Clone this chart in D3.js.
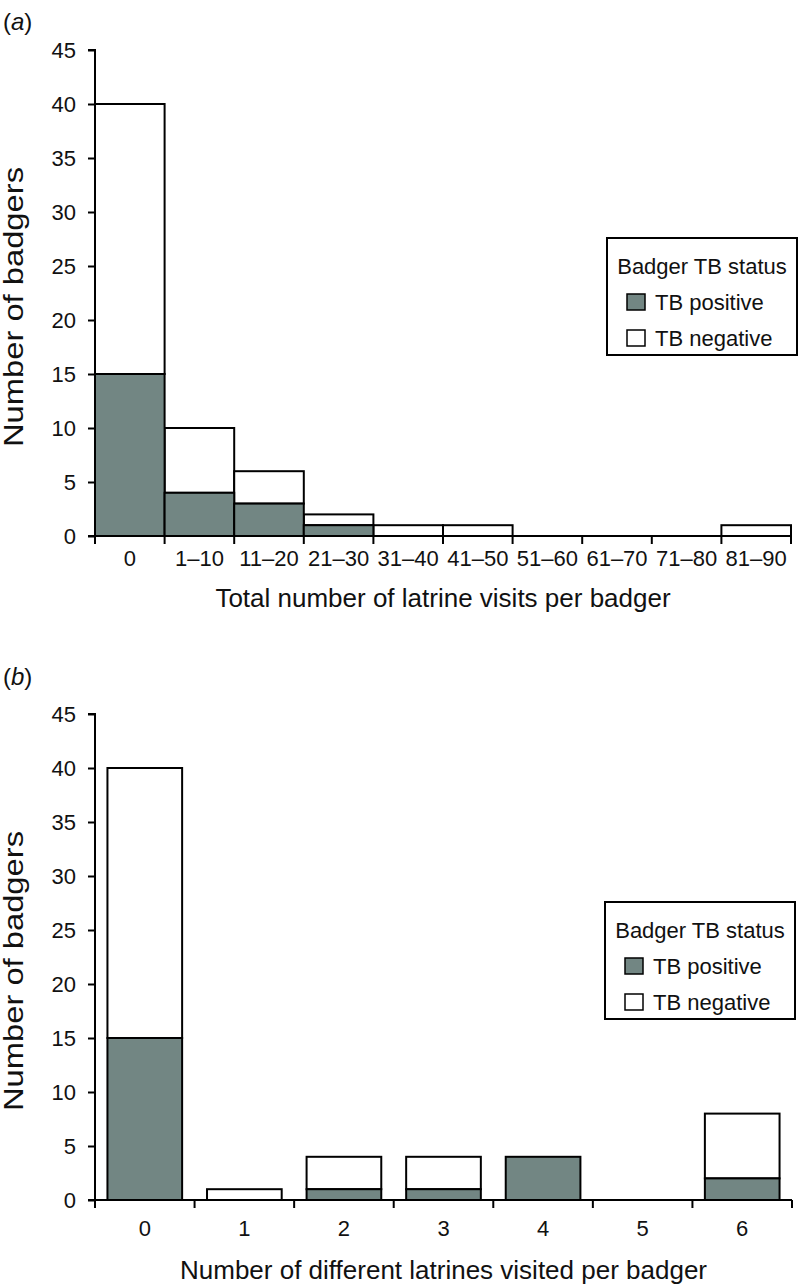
<!DOCTYPE html>
<html>
<head>
<meta charset="utf-8">
<script src="https://cdn.jsdelivr.net/npm/d3@7"></script>
<style>
  html, body { margin: 0; padding: 0; background: #fff; }
  svg { display: block; font-family: "Liberation Sans", Arial, sans-serif; }
</style>
</head>
<body>
<svg id="chart" width="798" height="1287"></svg>
<script>
// ---- Data ----
const visitCategories = ["0", "1–10", "11–20", "21–30", "31–40", "41–50", "51–60", "61–70", "71–80", "81–90"];
const visitPositive   = [15, 4, 3, 1, 0, 0, 0, 0, 0, 0];
const visitNegative   = [25, 6, 3, 1, 1, 1, 0, 0, 0, 1];

const latrineCategories = ["0", "1", "2", "3", "4", "5", "6"];
const latrinePositive   = [15, 0, 1, 1, 4, 0, 2];
const latrineNegative   = [25, 1, 3, 3, 0, 0, 6];

const yTicks = [0, 5, 10, 15, 20, 25, 30, 35, 40, 45];
const legendTitle = "Badger TB status";
const seriesNames = ["TB positive", "TB negative"];

const POS_COLOR = "#728683";
const NEG_COLOR = "#ffffff";

const svg = d3.select("#chart");

function panel(opts) {
  const g = svg.append("g");
  const x = d3.scaleBand().domain(opts.categories).range([opts.x0, opts.x1]).paddingInner(opts.pad).paddingOuter(opts.pad / 2);
  const xb = d3.scaleBand().domain(opts.categories).range([opts.x0, opts.x1]).padding(0);
  const y = d3.scaleLinear().domain([0, 45]).range([opts.yBottom, opts.yTop]);

  // panel label
  const lab = g.append("text").attr("x", 3).attr("y", opts.labelY).attr("font-size", 24).attr("fill", "#111");
  lab.append("tspan").text("(");
  lab.append("tspan").attr("font-style", "italic").text(opts.letter);
  lab.append("tspan").text(")");

  const rows = opts.categories.map((c, i) => ({ c, p: opts.pos[i], n: opts.neg[i] }));

  // negative (top) segments
  g.selectAll("rect.neg").data(rows.filter(d => d.n > 0)).join("rect")
    .attr("class", "neg")
    .attr("x", d => x(d.c)).attr("width", x.bandwidth())
    .attr("y", d => y(d.p + d.n)).attr("height", d => y(d.p) - y(d.p + d.n))
    .attr("fill", NEG_COLOR).attr("stroke", "#000").attr("stroke-width", 2);
  // positive (bottom) segments
  g.selectAll("rect.pos").data(rows.filter(d => d.p > 0)).join("rect")
    .attr("class", "pos")
    .attr("x", d => x(d.c)).attr("width", x.bandwidth())
    .attr("y", d => y(d.p)).attr("height", d => y(0) - y(d.p))
    .attr("fill", POS_COLOR).attr("stroke", "#000").attr("stroke-width", 2);

  // y axis
  const yAxis = g.append("g").attr("transform", `translate(${opts.x0},0)`)
    .call(d3.axisLeft(y).tickValues(yTicks).tickSize(7).tickPadding(12));
  yAxis.select(".domain").attr("stroke-width", 2).attr("d", `M-7,${y(45)}H0V${y(0)}`);
  yAxis.selectAll(".tick line").attr("stroke-width", 2);
  yAxis.selectAll(".tick text").attr("font-size", 22).attr("font-family", "Liberation Sans, Arial, sans-serif").attr("fill", "#111");

  // x axis: baseline + boundary ticks
  const bounds = opts.categories.map(c => xb(c)).concat([opts.x1]);
  g.append("line").attr("x1", opts.x0 - 7).attr("x2", opts.x1).attr("y1", y(0)).attr("y2", y(0))
    .attr("stroke", "#000").attr("stroke-width", 2);
  g.selectAll("line.xt").data(bounds).join("line").attr("class", "xt")
    .attr("x1", d => d).attr("x2", d => d).attr("y1", y(0)).attr("y2", y(0) + 8)
    .attr("stroke", "#000").attr("stroke-width", 2);
  g.selectAll("text.xl").data(opts.categories).join("text").attr("class", "xl")
    .attr("x", d => xb(d) + xb.bandwidth() / 2).attr("y", opts.tickLabelY)
    .attr("text-anchor", "middle").attr("font-size", 22).attr("fill", "#111").text(d => d);

  // axis titles
  g.append("text").attr("x", (opts.x0 + opts.x1) / 2).attr("y", opts.xTitleY)
    .attr("text-anchor", "middle").attr("font-size", 26).attr("fill", "#111").text(opts.xTitle);
  g.append("text").attr("transform", `translate(${opts.yTitleX},${opts.yTitleCY}) rotate(-90)`)
    .attr("text-anchor", "middle").attr("font-size", 27).attr("fill", "#111")
    .attr("textLength", 280).attr("lengthAdjust", "spacingAndGlyphs")
    .text("Number of badgers");

  // legend
  const L = g.append("g").attr("transform", `translate(${opts.legX},${opts.legY})`);
  L.append("rect").attr("x", 0).attr("y", 0).attr("width", 190).attr("height", 117)
    .attr("fill", "#fff").attr("stroke", "#000").attr("stroke-width", 2);
  L.append("text").attr("x", 95).attr("y", 36).attr("text-anchor", "middle").attr("font-size", 22).attr("fill", "#111").text(legendTitle);
  const colors = [POS_COLOR, NEG_COLOR];
  seriesNames.forEach((s, i) => {
    const cy = 64 + i * 36;
    L.append("rect").attr("x", 20).attr("y", cy - 8).attr("width", 18).attr("height", 16)
      .attr("fill", colors[i]).attr("stroke", "#000").attr("stroke-width", 1.5);
    L.append("text").attr("x", 48).attr("y", cy + 8).attr("font-size", 22).attr("fill", "#111").text(s);
  });
}

panel({
  letter: "a", labelY: 30,
  categories: visitCategories, pos: visitPositive, neg: visitNegative,
  x0: 95, x1: 791, pad: 0, yTop: 50, yBottom: 536,
  tickLabelY: 566, xTitleY: 607, xTitle: "Total number of latrine visits per badger",
  yTitleX: 23, yTitleCY: 307, legX: 607, legY: 238
});

panel({
  letter: "b", labelY: 685,
  categories: latrineCategories, pos: latrinePositive, neg: latrineNegative,
  x0: 95, x1: 792, pad: 0.25, yTop: 714, yBottom: 1200,
  tickLabelY: 1236, xTitleY: 1279, xTitle: "Number of different latrines visited per badger",
  yTitleX: 23, yTitleCY: 971, legX: 605, legY: 902
});
</script>
</body>
</html>
